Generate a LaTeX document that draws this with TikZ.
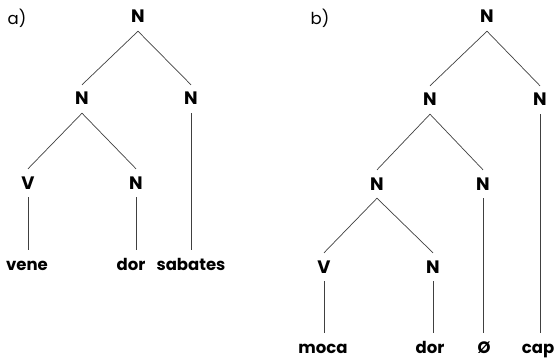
\documentclass[tikz,border=0pt]{standalone}
\usepackage{fontspec}
\setmainfont{Poppins}
\begin{document}
\begin{tikzpicture}[x=1pt, y=-1pt,
          cat/.style={font=\fontsize{18}{21}\selectfont\bfseries, text height=12pt, text depth=0pt, inner sep=8pt},
          word/.style={cat, font=\fontsize{16.5}{20}\selectfont\bfseries},
          tag/.style={font=\fontsize{16.5}{20}\selectfont, inner sep=0pt},
          edge/.style={draw=black!75, line width=0.7pt}]
          \useasboundingbox (0,0) rectangle (556,358);
          % tree a)
          \node[tag] (la) at (17,18) {a)};
          \node[cat] (aroot) at (138,17) {N};
          \node[cat] (an) at (82,99) {N};
          \node[cat] (ans) at (191,99) {N};
          \node[cat] (av) at (28,183) {V};
          \node[cat] (and) at (136,183) {N};
          \node[word] (vene) at (27,264) {vene};
          \node[word] (adore) at (131,264) {dor};
          \node[word] (sabates) at (191,264) {sabates};
          \draw[edge] (aroot.south) -- (an.north);
          \draw[edge] (aroot.south) -- (ans.north);
          \draw[edge] (an.south) -- (av.north);
          \draw[edge] (an.south) -- (and.north);
          \draw[edge] (av.south) -- (av.south |- vene.north);
          \draw[edge] (and.south) -- (and.south |- adore.north);
          \draw[edge] (ans.south) -- (ans.south |- sabates.north);
          % tree b)
          \node[tag] (lb) at (320,18) {b)};
          \node[cat] (broot) at (487,17) {N};
          \node[cat] (bn) at (430,100) {N};
          \node[cat] (bns) at (540,100) {N};
          \node[cat] (bnn) at (377,184) {N};
          \node[cat] (bnz) at (483,184) {N};
          \node[cat] (bv) at (324,267) {V};
          \node[cat] (bnd) at (433,267) {N};
          \node[word] (moca) at (323,347) {moca};
          \node[word] (bdor) at (430,347) {dor};
          \node[word] (zero) at (484,347) {Ø};
          \node[word] (cap) at (538,347) {cap};
          \draw[edge] (broot.south) -- (bn.north);
          \draw[edge] (broot.south) -- (bns.north);
          \draw[edge] (bn.south) -- (bnn.north);
          \draw[edge] (bn.south) -- (bnz.north);
          \draw[edge] (bnn.south) -- (bv.north);
          \draw[edge] (bnn.south) -- (bnd.north);
          \draw[edge] (bv.south) -- (bv.south |- moca.north);
          \draw[edge] (bnd.south) -- (bnd.south |- bdor.north);
          \draw[edge] (bnz.south) -- (bnz.south |- zero.north);
          \draw[edge] (bns.south) -- (bns.south |- cap.north);
        \end{tikzpicture}
\end{document}
